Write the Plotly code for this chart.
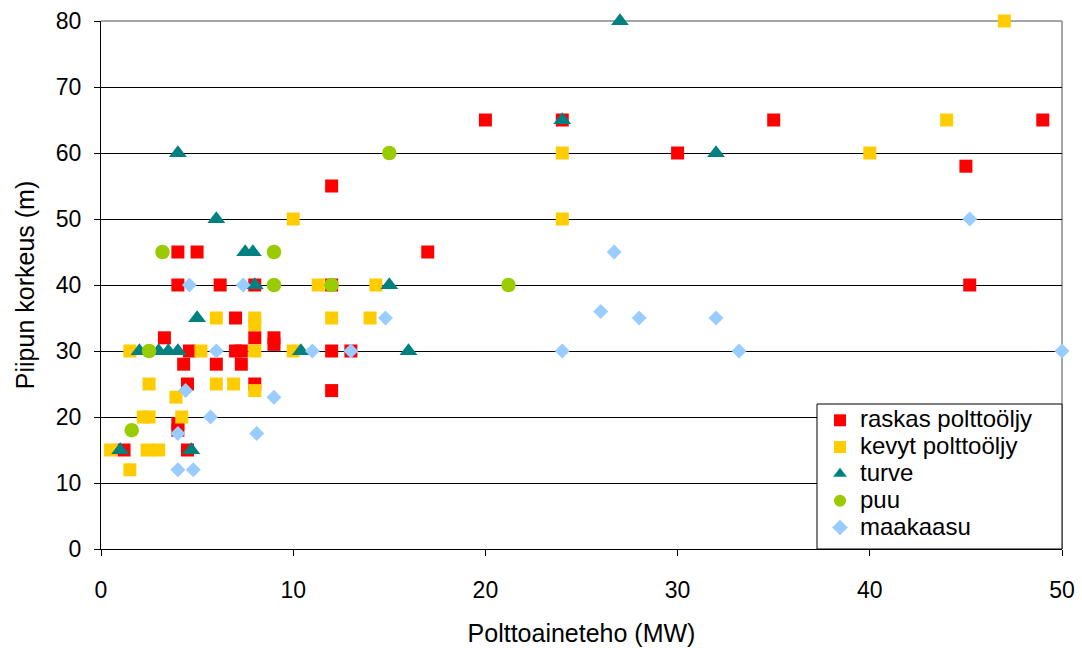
import plotly.graph_objects as go

# Polttoaineteho (MW) ja piipun korkeus (m) polttoaineittain
raskas_x = [4, 6.2, 8, 12, 4, 5, 17, 12, 20, 24, 30, 35, 45, 45.2, 49,
            7, 3.3, 8, 9, 9, 4.6, 7, 7.3, 12, 13, 4.3, 6, 7.3, 4.5, 8, 12,
            4, 4, 1.2, 4.5]
raskas_y = [40, 40, 40, 40, 45, 45, 45, 55, 65, 65, 60, 65, 58, 40, 65,
            35, 32, 32, 32, 31, 30, 30, 30, 30, 30, 28, 28, 28, 25, 25, 24,
            19, 18, 15, 15]

kevyt_x = [11.3, 14.3, 6, 8, 8, 12, 14, 10, 24, 24, 40, 44, 47,
           1.5, 5.2, 8, 10, 2.5, 6, 6.9, 8, 3.9, 2.2, 2.5, 4.2,
           0.5, 2.4, 3, 1.5]
kevyt_y = [40, 40, 35, 35, 34, 35, 35, 50, 60, 50, 60, 65, 80,
           30, 30, 30, 30, 25, 25, 25, 24, 23, 20, 20, 20,
           15, 15, 15, 12]

turve_x = [8, 15, 5, 2, 3, 3.5, 4, 10.4, 16, 4, 6, 7.5, 7.9, 24, 27, 32, 1, 4.7]
turve_y = [40, 40, 35, 30, 30, 30, 30, 30, 30, 60, 50, 45, 45, 65, 80, 60, 15, 15]

puu_x = [9, 12, 2.5, 3.2, 9, 15, 21.2, 1.6]
puu_y = [40, 40, 30, 45, 45, 60, 40, 18]

maakaasu_x = [4.6, 7.4, 14.8, 6, 11, 13, 4.4, 9, 5.7, 4, 8.1, 4, 4.8,
              24, 26, 26.7, 28, 32, 33.2, 45.2, 50]
maakaasu_y = [40, 40, 35, 30, 30, 30, 24, 23, 20, 17.5, 17.5, 12, 12,
              30, 36, 45, 35, 35, 30, 50, 30]

x_ticks = [0, 10, 20, 30, 40, 50]
y_ticks = [0, 10, 20, 30, 40, 50, 60, 70, 80]

series = [
    ("raskas polttoöljy", raskas_x, raskas_y, "square", "#FF0000", 13),
    ("kevyt polttoöljy", kevyt_x, kevyt_y, "square", "#FFCC00", 13),
    ("turve", turve_x, turve_y, "triangle-up", "#008080", 15.5),
    ("puu", puu_x, puu_y, "circle", "#99CC00", 14.5),
    ("maakaasu", maakaasu_x, maakaasu_y, "diamond", "#99CCFF", 11.5),
]

LEGEND_TEXT_PX = 24

fig = go.Figure()
for name, xs, ys, sym, col, sz in series:
    fig.add_trace(go.Scatter(
        x=xs, y=ys, mode="markers",
        name=f"<span style='font-size:{LEGEND_TEXT_PX}px'>{name}</span>",
        hovertemplate=f"{name}<br>%{{x}} MW, %{{y}} m<extra></extra>",
        marker=dict(symbol=sym, color=col, size=sz, line=dict(width=0)),
        cliponaxis=False,
    ))

font = "Liberation Sans, Arial, sans-serif"

# plot area in pixels: x 101..1062, y 21..549
W, H = 1082, 648
L, R, T, B = 101, 20, 21, 99
pw, ph = W - L - R, H - T - B

# legend frame
box_x0, box_x1 = 817, 1062
box_y0, box_y1 = 404, 549

fig.update_layout(
    width=W, height=H,
    margin=dict(l=L, r=R, t=T, b=B),
    paper_bgcolor="white", plot_bgcolor="white",
    font=dict(family=font, size=23, color="black"),
    showlegend=True,
    legend=dict(
        x=(box_x0 + 3 - L) / pw, y=(H - B - box_y0) / ph + 0.004,
        xanchor="left", yanchor="top",
        bgcolor="rgba(0,0,0,0)", borderwidth=0,
        font=dict(family=font, size=18.3, color="black"),
        itemsizing="constant", tracegroupgap=0,
    ),
    xaxis=dict(
        range=[0, 50], tickvals=x_ticks, showgrid=False, zeroline=False,
        showline=True, linecolor="black", linewidth=1, automargin=False,
        ticks="outside", ticklen=6, tickcolor="black",
        ticklabelstandoff=14,
        title=dict(text="Polttoaineteho (MW)", font=dict(size=25), standoff=22),
    ),
    yaxis=dict(
        range=[0, 80], tickvals=y_ticks, showgrid=True, gridcolor="black",
        gridwidth=1, zeroline=False, automargin=False,
        showline=True, linecolor="black", linewidth=1,
        ticks="outside", ticklen=6, tickcolor="black",
        ticklabelstandoff=8,
        title=dict(text="Piipun korkeus (m)", font=dict(size=25), standoff=14),
    ),
)

# harmaa reunaviiva ylä- ja oikealla
fig.add_shape(type="line", xref="paper", yref="paper", x0=0, x1=1, y0=1, y1=1,
              line=dict(color="#888888", width=1.5), layer="between")
fig.add_shape(type="line", xref="paper", yref="paper", x0=1, x1=1, y0=0, y1=1,
              line=dict(color="#888888", width=1.5), layer="between")

# selitteen kehys
fig.add_shape(type="rect", xref="paper", yref="paper",
              x0=(box_x0 - L) / pw, x1=(box_x1 - L) / pw,
              y0=(H - B - box_y1) / ph, y1=(H - B - box_y0) / ph,
              fillcolor="white", line=dict(color="black", width=1), layer="above")

fig.write_html("out.html")
